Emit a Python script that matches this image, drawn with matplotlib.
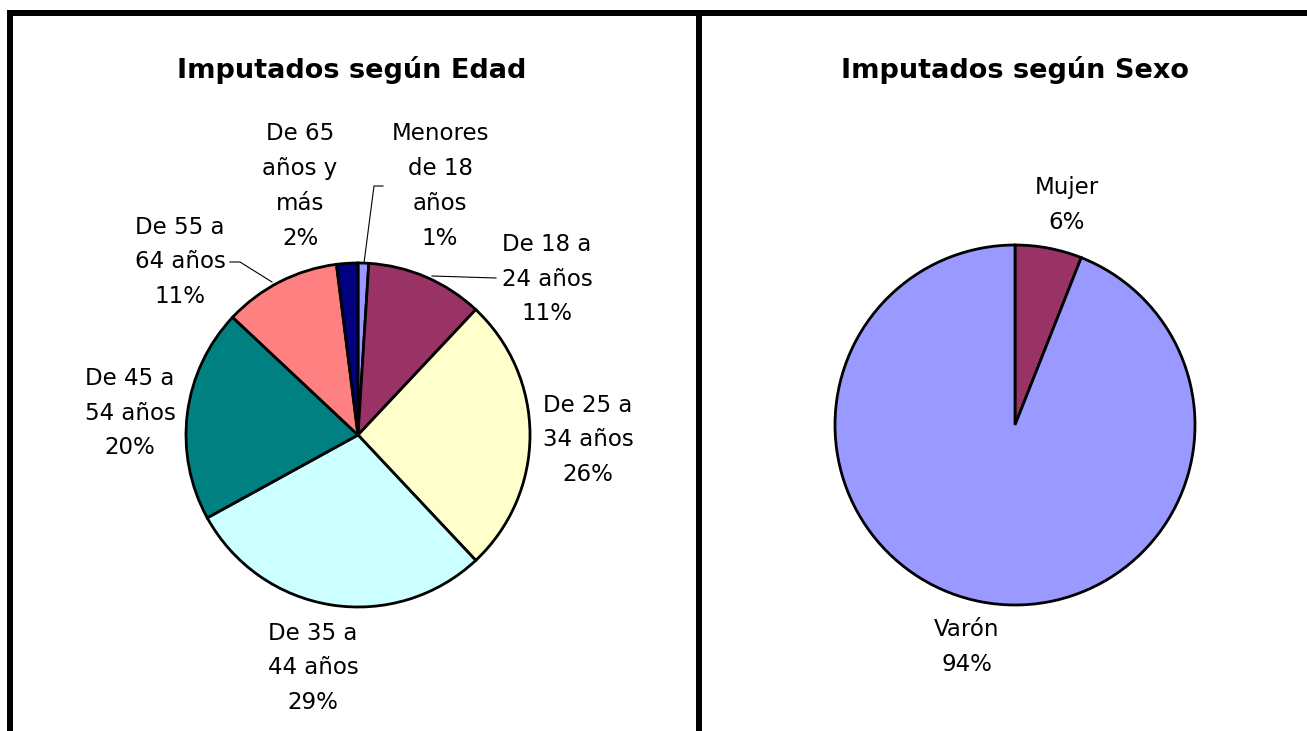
import matplotlib
matplotlib.use("Agg")
import matplotlib.pyplot as plt

# ---- data ----
edad_categorias = ["Menores\nde 18\naños", "De 18 a\n24 años", "De 25 a\n34 años",
                   "De 35 a\n44 años", "De 45 a\n54 años", "De 55 a\n64 años",
                   "De 65\naños y\nmás"]
edad_valores = [1, 11, 26, 29, 20, 11, 2]
sexo_categorias = ["Mujer", "Varón"]
sexo_valores = [6, 94]
titulo_edad = "Imputados según Edad"
titulo_sexo = "Imputados según Sexo"

# ---- styles ----
edad_colores = ["#9999FF", "#993366", "#FFFFCC", "#CCFFFF", "#008080", "#FF8080", "#000080"]
sexo_colores = ["#993366", "#9999FF"]

W, H = 1307, 731
plt.rcParams['font.family'] = ['DejaVu Sans']

fig = plt.figure(figsize=(W / 100, H / 100), dpi=100)
ax = fig.add_axes([0, 0, 1, 1])

def Y(y):
    return H - y

wedge_style = dict(edgecolor='black', linewidth=2.0)

# left pie
ax.pie(edad_valores, colors=edad_colores, startangle=90, counterclock=False,
       center=(358, Y(435)), radius=172, wedgeprops=wedge_style, frame=True)
# right pie
ax.pie(sexo_valores, colors=sexo_colores, startangle=90, counterclock=False,
       center=(1015, Y(425)), radius=180, wedgeprops=wedge_style, frame=True)
ax.set_xlim(0, W)
ax.set_ylim(0, H)
ax.set_aspect('equal')
ax.axis('off')

# panel borders
bw = 6 * 72 / 100
ax.plot([7, W], [Y(13), Y(13)], color='black', lw=bw, solid_capstyle='butt')
ax.plot([10, 10], [Y(10), Y(H + 5)], color='black', lw=bw, solid_capstyle='butt')
ax.plot([699, 699], [Y(10), Y(H + 5)], color='black', lw=bw, solid_capstyle='butt')

# titles
ax.text(352, Y(70), titulo_edad, ha='center', va='center', fontsize=19.5, fontweight='bold')
ax.text(1015, Y(70), titulo_sexo, ha='center', va='center', fontsize=19.5, fontweight='bold')

# labels
lab_fs = 16.5
lab_ls = 1.65
edad_label_pos = [(440, 186), (547, 279), (588, 440), (313, 668), (130, 413), (180, 262), (300, 186)]
for cat, val, (x, y) in zip(edad_categorias, edad_valores, edad_label_pos):
    ax.text(x, Y(y), f"{cat}\n{val}%", ha='center', va='center', fontsize=lab_fs, linespacing=lab_ls)

sexo_label_pos = [(1067, 205), (967, 647)]
for cat, val, (x, y) in zip(sexo_categorias, sexo_valores, sexo_label_pos):
    ax.text(x, Y(y), f"{cat}\n{val}%", ha='center', va='center', fontsize=lab_fs, linespacing=lab_ls)

# leader lines
leaders = [
    [(383, 186), (374, 186), (364, 263)],
    [(432, 276), (496, 278)],
    [(230, 262), (240, 262), (272, 282)],
]
for pts in leaders:
    xs = [p[0] for p in pts]
    ys = [Y(p[1]) for p in pts]
    ax.plot(xs, ys, color='black', lw=0.8)

fig.savefig("out.png", dpi=100, facecolor='white')
